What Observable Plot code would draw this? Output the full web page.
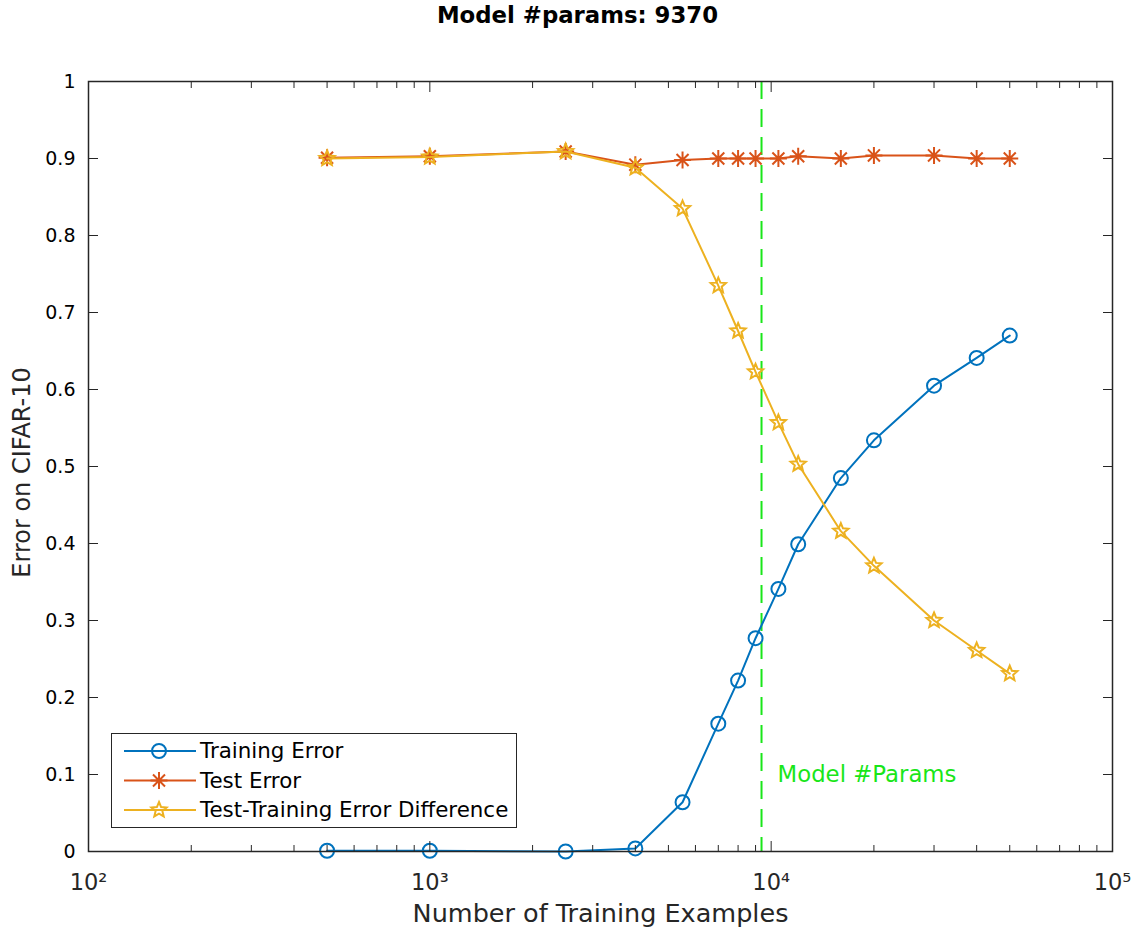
<!DOCTYPE html>
<html>
<head>
<meta charset="utf-8">
<script src="https://cdn.jsdelivr.net/npm/d3@7"></script>
<script src="https://cdn.jsdelivr.net/npm/@observablehq/plot@0.6"></script>
<style>
  html, body { margin: 0; padding: 0; background: #fff; }
  #wrap { position: relative; width: 1135px; height: 936px; }
  #title { height: 40px; line-height: 30px; text-align: center; padding-left: 20px; box-sizing: border-box; font-family: "DejaVu Sans", sans-serif; font-weight: bold; font-size: 22.8px; color: #000; }
  #legend { position: absolute; left: 111px; top: 733px; width: 404px; height: 93px; background: #fff; border: 1.5px solid #262626; box-sizing: content-box; }
</style>
</head>
<body>
<div id="wrap">
  <div id="title">Model #params: 9370</div>
  <div id="chart"></div>
  <div id="legend"></div>
</div>
<script>
// ---- data ----
const trainingExamples = [500, 1000, 2500, 4000, 5500, 7000, 8000, 9000, 10500, 12000, 16000, 20000, 30000, 40000, 50000];
const trainingError = [0.001, 0.001, 0.0, 0.004, 0.064, 0.166, 0.222, 0.277, 0.341, 0.399, 0.485, 0.534, 0.605, 0.641, 0.670];
const testError = [0.901, 0.903, 0.909, 0.892, 0.898, 0.900, 0.900, 0.900, 0.900, 0.903, 0.900, 0.904, 0.904, 0.900, 0.900];
const errorDifference = [0.900, 0.902, 0.909, 0.888, 0.835, 0.735, 0.676, 0.623, 0.557, 0.503, 0.416, 0.371, 0.300, 0.261, 0.231];
const seriesNames = ["Training Error", "Test Error", "Test-Training Error Difference"];
const seriesColors = ["#0072BD", "#D95319", "#EDB120"];
const modelParams = 9370;
const modelLabel = "Model #Params";
const xMajorTicks = [100, 1000, 10000, 100000];
const xMinorTicks = [200,300,400,500,600,700,800,900,2000,3000,4000,5000,6000,7000,8000,9000,20000,30000,40000,50000,60000,70000,80000,90000];
const yTicks = [0, 0.1, 0.2, 0.3, 0.4, 0.5, 0.6, 0.7, 0.8, 0.9, 1];
const xLabel = "Number of Training Examples";
const yLabel = "Error on CIFAR-10";

const sup = {"2":"²","3":"³","4":"⁴","5":"⁵"};
const fmtX = d => "10" + sup[String(Math.round(Math.log10(d)))];

// ---- custom symbols ----
const asterisk8 = {draw(ctx, size) {
  const r = Math.sqrt(size / Math.PI);
  for (let i = 0; i < 4; i++) {
    const a = i * Math.PI / 4;
    ctx.moveTo(r * Math.cos(a), r * Math.sin(a));
    ctx.lineTo(-r * Math.cos(a), -r * Math.sin(a));
  }
}};
const pentagram = {draw(ctx, size) {
  const R = Math.sqrt(size / Math.PI), ri = R * 0.45;
  for (let i = 0; i < 10; i++) {
    const rr = i % 2 ? ri : R;
    const a = -Math.PI / 2 + i * Math.PI / 5;
    if (i === 0) ctx.moveTo(rr * Math.cos(a), rr * Math.sin(a));
    else ctx.lineTo(rr * Math.cos(a), rr * Math.sin(a));
  }
  ctx.closePath();
}};
const symbols = ["circle", asterisk8, pentagram];
const radii = [7, 8.5, 8];

const seriesValues = [trainingError, testError, errorDifference];
const rows = (s) => trainingExamples.map((x, i) => ({x, y: seriesValues[s][i]}));

const axisColor = "#262626";
const font = "'DejaVu Sans', sans-serif";

const marks = [
  Plot.ruleX([modelParams], {stroke: "#19e619", strokeWidth: 2, strokeDasharray: "18,10"}),
  Plot.text([{x: modelParams, y: 0.1, t: modelLabel}], {x: "x", y: "y", text: "t", fill: "#19e619", fontSize: 22.8, fontFamily: font, textAnchor: "start", dx: 16})
];
for (let s = 0; s < 3; s++) {
  marks.push(Plot.line(rows(s), {x: "x", y: "y", stroke: seriesColors[s], strokeWidth: 2}));
  marks.push(Plot.dot(rows(s), {x: "x", y: "y", stroke: seriesColors[s], fill: "none", strokeWidth: 2, r: radii[s], symbol: () => symbols[s]}));
}
marks.push(
  Plot.frame({stroke: axisColor, strokeWidth: 1.5}),
  Plot.axisX(xMajorTicks, {anchor: "bottom", tickSize: -10, tickPadding: 33, tickFormat: fmtX, label: null, stroke: axisColor, fontSize: 22.5, fontFamily: font, color: "#262626"}),
  Plot.axisX(xMinorTicks, {anchor: "bottom", tickSize: -6, tickFormat: () => "", label: null, stroke: axisColor}),
  Plot.axisX(xMajorTicks, {anchor: "top", tickSize: -10, tickFormat: () => "", label: null, stroke: axisColor}),
  Plot.axisX(xMinorTicks, {anchor: "top", tickSize: -6, tickFormat: () => "", label: null, stroke: axisColor}),
  Plot.axisY(yTicks, {anchor: "left", tickSize: -10, tickPadding: 23, tickFormat: d => String(+d.toFixed(1)), label: null, stroke: axisColor, fontSize: 19, fontFamily: font}),
  Plot.axisY(yTicks, {anchor: "right", tickSize: -10, tickFormat: () => "", label: null, stroke: axisColor}),
  Plot.text([xLabel], {frameAnchor: "bottom", textAnchor: "middle", dy: 70, fontSize: 25.5, fontFamily: font, fill: "#262626"}),
  Plot.text([yLabel], {frameAnchor: "left", textAnchor: "middle", dx: -66, dy: 6, rotate: -90, fontSize: 24, fontFamily: font, fill: "#262626"})
);

const chart = Plot.plot({
  width: 1135,
  height: 896,
  marginTop: 41,
  marginBottom: 85,
  marginLeft: 88,
  marginRight: 23,
  x: {type: "log", domain: [100, 100000]},
  y: {domain: [0, 1]},
  style: {background: "#fff", overflow: "visible"},
  marks
});
document.getElementById("chart").appendChild(chart);

// ---- legend ----
const lg = d3.select("#legend").append("svg").attr("width", 404).attr("height", 93).style("display", "block");
seriesNames.forEach((name, s) => {
  const cy = 17 + s * 29.5;
  lg.append("line").attr("x1", 12).attr("x2", 84).attr("y1", cy).attr("y2", cy).attr("stroke", seriesColors[s]).attr("stroke-width", 2);
  const sym = d3.symbol(typeof symbols[s] === "string" ? d3.symbolCircle : symbols[s], Math.PI * radii[s] * radii[s]);
  lg.append("path").attr("d", sym()).attr("transform", `translate(47,${cy})`).attr("fill", "none").attr("stroke", seriesColors[s]).attr("stroke-width", 2);
  lg.append("text").attr("x", 88).attr("y", cy).attr("dy", "0.35em").attr("font-family", "DejaVu Sans, sans-serif").attr("font-size", 21.4).attr("fill", "#000").text(name);
});
</script>
</body>
</html>
